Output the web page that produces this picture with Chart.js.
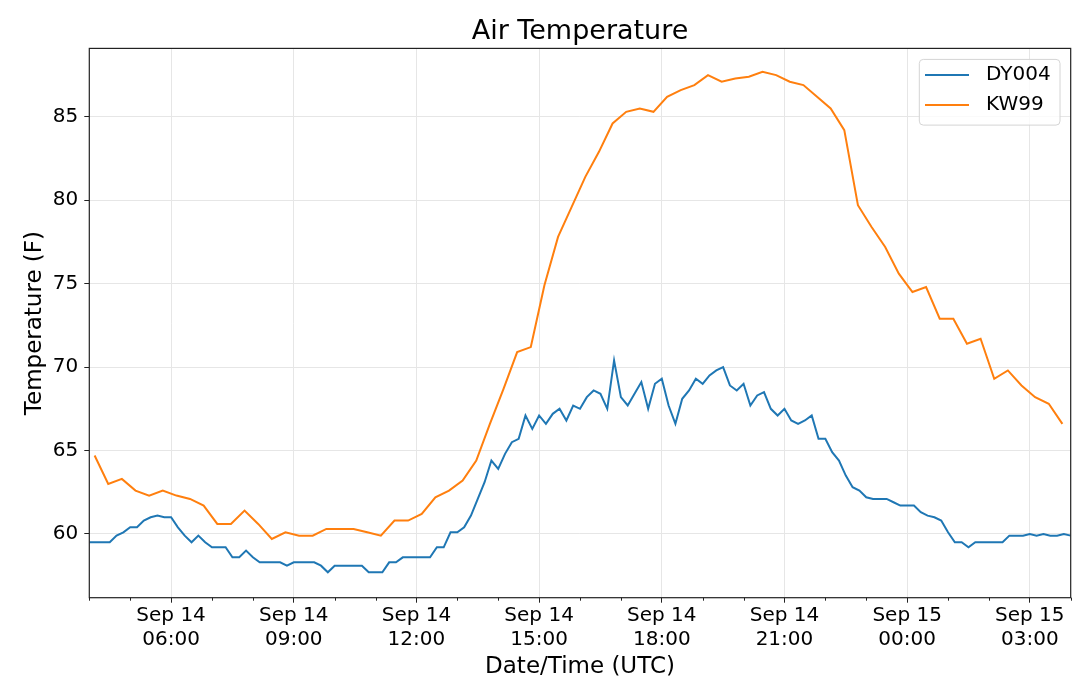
<!DOCTYPE html>
<html>
<head>
<meta charset="utf-8">
<title>Air Temperature</title>
<script src="https://cdn.jsdelivr.net/npm/chart.js@4.4.1/dist/chart.umd.min.js"></script>
<style>
  html, body { margin: 0; padding: 0; background: #fff; }
  #wrap { width: 1080px; height: 688px; }
</style>
</head>
<body>
<div id="wrap"><canvas id="tempChart" width="1080" height="688"></canvas></div>
<script>
// times are hours since Sep 14 00:00 UTC
const DY_START = 4.0;        // DY004 reads every 10 min
const DY_STEP = 10 / 60;
const KW_START = 4.13;       // KW99 reads every 20 min
const KW_STEP = 20 / 60;

const dy004Temps = [
  59.5, 59.5, 59.5, 59.5, 59.9, 60.1, 60.4, 60.4, 60.8, 61.0,
  61.1, 61.0, 61.0, 60.4, 59.9, 59.5, 59.9, 59.5, 59.2, 59.2,
  59.2, 58.6, 58.6, 59.0, 58.6, 58.3, 58.3, 58.3, 58.3, 58.1,
  58.3, 58.3, 58.3, 58.3, 58.1, 57.7, 58.1, 58.1, 58.1, 58.1,
  58.1, 57.7, 57.7, 57.7, 58.3, 58.3, 58.6, 58.6, 58.6, 58.6,
  58.6, 59.2, 59.2, 60.1, 60.1, 60.4, 61.1, 62.1, 63.1, 64.4,
  63.9, 64.8, 65.5, 65.7, 67.1, 66.3, 67.1, 66.6, 67.2, 67.5,
  66.8, 67.7, 67.5, 68.2, 68.6, 68.4, 67.5, 70.4, 68.2, 67.7,
  68.4, 69.1, 67.5, 69.0, 69.3, 67.7, 66.6, 68.1, 68.6, 69.3,
  69.0, 69.5, 69.8, 70.0, 68.9, 68.6, 69.0, 67.7, 68.3, 68.5,
  67.5, 67.1, 67.5, 66.8, 66.6, 66.8, 67.1, 65.7, 65.7, 64.9,
  64.4, 63.5, 62.8, 62.6, 62.2, 62.1, 62.1, 62.1, 61.9, 61.7,
  61.7, 61.7, 61.3, 61.1, 61.0, 60.8, 60.1, 59.5, 59.5, 59.2,
  59.5, 59.5, 59.5, 59.5, 59.5, 59.9, 59.9, 59.9, 60.0, 59.9,
  60.0, 59.9, 59.9, 60.0, 59.9
];

const kw99Temps = [
  64.7, 63.0, 63.3, 62.6, 62.3, 62.6, 62.3, 62.1, 61.7, 60.6,
  60.6, 61.4, 60.6, 59.7, 60.1, 59.9, 59.9, 60.3, 60.3, 60.3,
  60.1, 59.9, 60.8, 60.8, 61.2, 62.2, 62.6, 63.2, 64.4, 66.6,
  68.7, 70.9, 71.2, 74.9, 77.8, 79.6, 81.4, 82.9, 84.6, 85.3,
  85.5, 85.3, 86.2, 86.6, 86.9, 87.5, 87.1, 87.3, 87.4, 87.7,
  87.5, 87.1, 86.9, 86.2, 85.5, 84.2, 79.7, 78.4, 77.2, 75.6,
  74.5, 74.8, 72.9, 72.9, 71.4, 71.7, 69.3, 69.8, 68.9, 68.2,
  67.8, 66.6
];

const majorHours = [6, 9, 12, 15, 18, 21, 24, 27];
const majorLabels = [
  ['Sep 14', '06:00'], ['Sep 14', '09:00'], ['Sep 14', '12:00'], ['Sep 14', '15:00'],
  ['Sep 14', '18:00'], ['Sep 14', '21:00'], ['Sep 15', '00:00'], ['Sep 15', '03:00']
];
const minorHours = [4, 5, 7, 8, 10, 11, 13, 14, 16, 17, 19, 20, 22, 23, 25, 26, 28];
const yTicks = [60, 65, 70, 75, 80, 85];

const X_MIN = 4, X_MAX = 28;
const Y_MIN = 56.18, Y_MAX = 89.1;

const toPoints = (start, step, temps) => temps.map((t, i) => ({ x: start + i * step, y: t }));

Chart.defaults.font.family = "'DejaVu Sans', sans-serif";
Chart.defaults.color = '#000';

// hourly minor ticks on the time axis + black frame round the plot
const frameTicks = {
  id: 'frameTicks',
  afterDraw(chart) {
    const { ctx, chartArea: a, scales: { x } } = chart;
    ctx.save();
    ctx.strokeStyle = '#222';
    ctx.lineWidth = 1;
    minorHours.forEach(h => {
      const px = Math.round(x.getPixelForValue(h)) + 0.5;
      ctx.beginPath();
      ctx.moveTo(px, a.bottom);
      ctx.lineTo(px, a.bottom + 3);
      ctx.stroke();
    });
    ctx.lineWidth = 1.2;
    ctx.strokeRect(a.left, a.top, a.right - a.left, a.bottom - a.top);
    ctx.restore();
  }
};

// matplotlib-style legend box in the upper right
const boxLegend = {
  id: 'boxLegend',
  afterDraw(chart) {
    const { ctx, chartArea: a } = chart;
    const sets = chart.data.datasets;
    const w = 140.7, rowH = 30;
    const h = rowH * sets.length + 5.7;
    const bx = a.right - 10.7 - w;
    const by = a.top + 11;
    ctx.save();
    ctx.beginPath();
    ctx.roundRect(bx, by, w, h, 4);
    ctx.fillStyle = 'rgba(255,255,255,0.8)';
    ctx.fill();
    ctx.strokeStyle = '#d4d4d4';
    ctx.lineWidth = 1;
    ctx.stroke();
    ctx.font = "20px 'DejaVu Sans'";
    ctx.textBaseline = 'middle';
    ctx.fillStyle = '#000';
    sets.forEach((ds, i) => {
      const cy = by + 15.7 + i * rowH;
      ctx.strokeStyle = ds.borderColor;
      ctx.lineWidth = 2;
      ctx.beginPath();
      ctx.moveTo(bx + 5.7, cy);
      ctx.lineTo(bx + 49.7, cy);
      ctx.stroke();
      ctx.fillText(ds.label, bx + 66.7, cy);
    });
    ctx.restore();
  }
};

new Chart(document.getElementById('tempChart'), {
  type: 'line',
  data: {
    datasets: [
      { label: 'DY004', data: toPoints(DY_START, DY_STEP, dy004Temps), borderColor: '#1f77b4', borderWidth: 2, pointRadius: 0, tension: 0 },
      { label: 'KW99', data: toPoints(KW_START, KW_STEP, kw99Temps), borderColor: '#ff7f0e', borderWidth: 2, pointRadius: 0, tension: 0 }
    ]
  },
  options: {
    responsive: false,
    animation: false,
    devicePixelRatio: 1,
    layout: { padding: { left: 0, right: 9.3, top: 0, bottom: 0 } },
    plugins: {
      legend: { display: false },
      tooltip: { enabled: false },
      title: {
        display: true, text: 'Air Temperature', fullSize: false,
        font: { size: 27, weight: 'normal' }, color: '#000',
        padding: { top: 16, bottom: 0 }
      }
    },
    scales: {
      x: {
        type: 'linear', min: X_MIN, max: X_MAX,
        afterBuildTicks: s => { s.ticks = majorHours.map(v => ({ value: v })); },
        afterFit: s => { s.height = 90.3; },
        ticks: {
          autoSkip: false, maxRotation: 0, padding: 1, font: { size: 20 }, color: '#000',
          callback: v => { const i = majorHours.indexOf(v); return i < 0 ? '' : majorLabels[i]; }
        },
        grid: { color: '#e6e6e6', lineWidth: 1, tickLength: 5, tickColor: '#222' },
        border: { display: false },
        title: { display: true, text: 'Date/Time (UTC)', font: { size: 23 }, color: '#000', padding: { top: 0, bottom: 7 } }
      },
      y: {
        min: Y_MIN, max: Y_MAX,
        afterBuildTicks: s => { s.ticks = yTicks.map(v => ({ value: v })); },
        afterFit: s => { s.width = 89.3; },
        ticks: { padding: 6, font: { size: 20 }, color: '#000' },
        grid: { color: '#e6e6e6', lineWidth: 1, tickLength: 5, tickColor: '#222' },
        border: { display: false },
        title: { display: true, text: 'Temperature (F)', font: { size: 23 }, color: '#000', padding: { top: 21, bottom: 0 } }
      }
    }
  },
  plugins: [frameTicks, boxLegend]
});
</script>
</body>
</html>
